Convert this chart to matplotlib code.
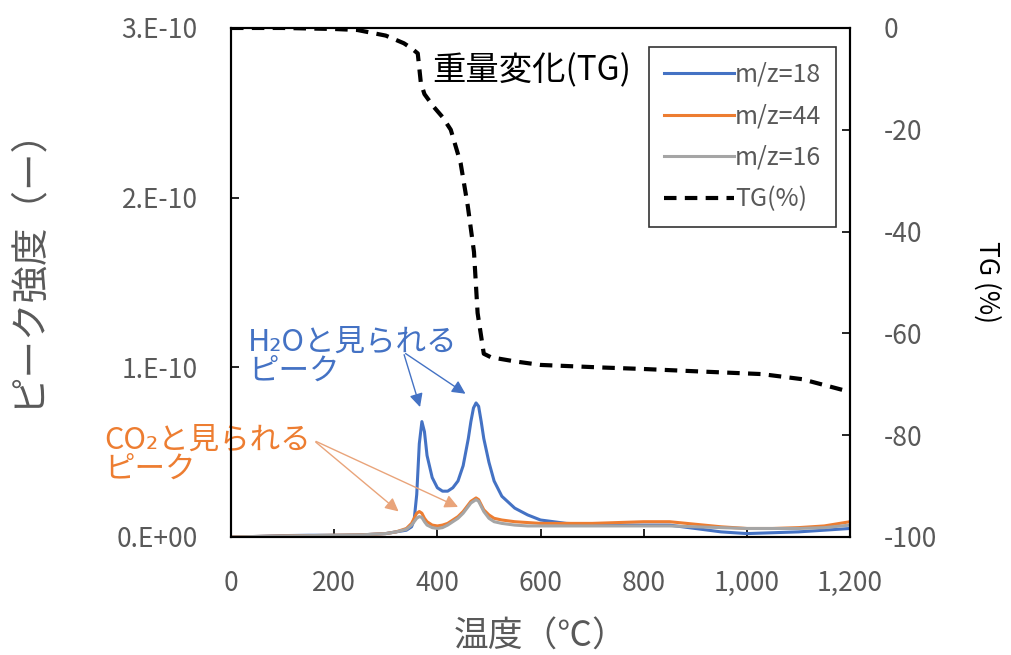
import numpy as np
import matplotlib.pyplot as plt
from matplotlib.ticker import FixedLocator, FixedFormatter

plt.rcParams['font.family'] = ['Noto Sans CJK JP', 'DejaVu Sans']
plt.rcParams['axes.unicode_minus'] = False

# --- MS signals (ion current, A) vs temperature ---
temp_ms = [0, 50, 100, 150, 200, 250, 300, 320, 340, 350, 355, 360, 365, 370, 375,
           380, 390, 400, 410, 420, 430, 440, 450, 460, 465, 470, 475, 480, 485,
           490, 500, 510, 525, 550, 575, 600, 650, 700, 750, 800, 850, 900, 950,
           1000, 1050, 1100, 1150, 1200]
mz18 = [0.0, 0.003, 0.008, 0.01, 0.01, 0.012, 0.02, 0.03, 0.04, 0.06, 0.1, 0.25, 0.55,
        0.68, 0.62, 0.48, 0.35, 0.29, 0.27, 0.27, 0.29, 0.33, 0.42, 0.58, 0.68, 0.76,
        0.79, 0.77, 0.68, 0.58, 0.44, 0.33, 0.24, 0.17, 0.13, 0.10, 0.08, 0.075, 0.07,
        0.07, 0.07, 0.05, 0.03, 0.02, 0.025, 0.03, 0.04, 0.05]
mz44 = [0.0, 0.003, 0.006, 0.008, 0.01, 0.012, 0.02, 0.03, 0.05, 0.08, 0.11, 0.14, 0.15,
        0.14, 0.11, 0.09, 0.07, 0.065, 0.07, 0.08, 0.10, 0.12, 0.15, 0.19, 0.21, 0.22,
        0.23, 0.22, 0.19, 0.16, 0.13, 0.11, 0.10, 0.09, 0.085, 0.08, 0.08, 0.08, 0.085,
        0.09, 0.09, 0.075, 0.06, 0.05, 0.05, 0.055, 0.065, 0.09]
mz16 = [0.0, 0.003, 0.006, 0.008, 0.01, 0.012, 0.02, 0.03, 0.045, 0.07, 0.09, 0.11, 0.12,
        0.115, 0.09, 0.07, 0.055, 0.05, 0.055, 0.07, 0.09, 0.11, 0.14, 0.18, 0.20, 0.21,
        0.22, 0.21, 0.18, 0.15, 0.11, 0.09, 0.08, 0.07, 0.065, 0.065, 0.065, 0.065, 0.065,
        0.065, 0.065, 0.06, 0.055, 0.05, 0.05, 0.05, 0.055, 0.07]
scale = 1e-10

# --- TG curve (%) ---
temp_tg = [0, 100, 200, 245, 300, 335, 350, 362, 368, 375, 393, 410, 426, 445, 459,
           471, 478, 490, 504, 550, 600, 718, 800, 912, 1029, 1107, 1200]
tg = [0, 0, -0.2, -0.4, -1.5, -3, -4, -5, -10.8, -13, -15.5, -17.5, -20, -26.5, -35,
      -44, -56, -64, -64.7, -65.5, -66.2, -66.7, -67, -67.5, -68, -69, -71.5]

left_ticks = [0, 1e-10, 2e-10, 3e-10]
left_labels = ['0.E+00', '1.E-10', '2.E-10', '3.E-10']
x_ticks = [0, 200, 400, 600, 800, 1000, 1200]
x_labels = ['0', '200', '400', '600', '800', '1,000', '1,200']

blue = '#4472C4'
orange = '#ED7D31'
gray = '#A5A5A5'
tick_color = '#595959'

fig = plt.figure(figsize=(10.11, 6.55), dpi=100)
ax = fig.add_axes([0.2285, 0.1802, 0.6123, 0.7771])
ax2 = ax.twinx()

l1, = ax.plot(temp_ms, np.array(mz18) * scale, color=blue, lw=2.2, label='m/z=18')
l2, = ax.plot(temp_ms, np.array(mz44) * scale, color=orange, lw=2.2, label='m/z=44')
l3, = ax.plot(temp_ms, np.array(mz16) * scale, color=gray, lw=2.2, label='m/z=16')
l4, = ax2.plot(temp_tg, tg, color='black', lw=3, ls=(0, (3, 2)), label='TG(%)')

ax.set_xlim(0, 1200)
ax.set_ylim(0, 3e-10)
ax2.set_ylim(-100, 0)

ax.xaxis.set_major_locator(FixedLocator(x_ticks))
ax.xaxis.set_major_formatter(FixedFormatter(x_labels))
ax.yaxis.set_major_locator(FixedLocator(left_ticks))
ax.yaxis.set_major_formatter(FixedFormatter(left_labels))
ax2.set_yticks([0, -20, -40, -60, -80, -100])

for a in (ax, ax2):
    a.tick_params(direction='in', length=6, width=1.2, labelsize=19,
                  labelcolor=tick_color)
    for s in a.spines.values():
        s.set_linewidth(1.5)
ax.tick_params(axis='x', pad=24)
ax.tick_params(axis='y', pad=24)
ax2.tick_params(axis='y', pad=24)

ax.set_xlabel('温度（℃）', fontsize=25, color=tick_color, labelpad=16)
ax.set_ylabel('ピーク強度（ー）', fontsize=27, color=tick_color)
ax.yaxis.set_label_coords(-0.300, 0.548)
ax2.set_ylabel('TG (%)', fontsize=19, color='black', rotation=270, labelpad=46)

ax2.text(390, -8.5, '重量変化(TG)', fontsize=24, color='black', va='center')

# annotations
ax.text(33, 1.24e-10, 'H₂Oと見られる\nピーク', fontsize=22, color=blue,
        va='top', linespacing=0.9)
ax.annotate('', xy=(368, 0.75e-10), xytext=(334, 1.09e-10),
            arrowprops=dict(arrowstyle='-|>', color=blue, lw=1, mutation_scale=20))
ax.annotate('', xy=(459, 0.835e-10), xytext=(334, 1.09e-10),
            arrowprops=dict(arrowstyle='-|>', color=blue, lw=1, mutation_scale=20))

ax.text(-245, 0.66e-10, 'CO₂と見られる\nピーク', fontsize=22, color=orange,
        va='top', linespacing=0.9, clip_on=False)
ax.annotate('', xy=(329, 0.14e-10), xytext=(160, 0.57e-10),
            arrowprops=dict(arrowstyle='-|>', color='#E9A47A', lw=1, mutation_scale=20))
ax.annotate('', xy=(445, 0.17e-10), xytext=(160, 0.57e-10),
            arrowprops=dict(arrowstyle='-|>', color='#E9A47A', lw=1, mutation_scale=20))

leg = ax2.legend(handles=[l1, l2, l3, l4], loc='upper left', bbox_to_anchor=(0.675, 0.963),
                 fontsize=18, frameon=True, fancybox=False, edgecolor='black',
                 handlelength=2.8, handletextpad=0.05, labelspacing=0.62,
                 borderpad=0.6, borderaxespad=0, labelcolor=tick_color)
leg.get_frame().set_linewidth(1.2)

fig.savefig('out.png', dpi=100)
